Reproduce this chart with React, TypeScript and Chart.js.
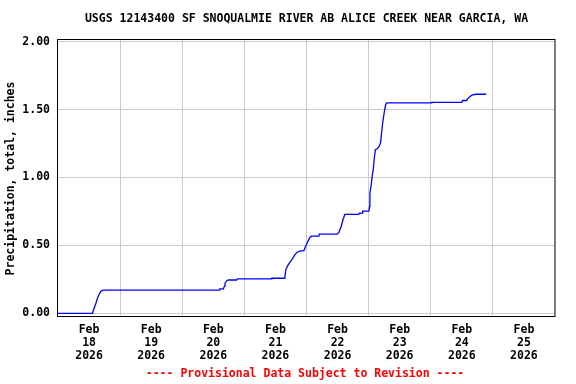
import React, { useEffect, useRef } from "react";
import { Chart, registerables } from "chart.js";

Chart.register(...registerables);

// Hours since Feb 18 2026 00:00
const hours = [
  0, 13.3, 13.8, 14.6, 15.2, 15.9, 16.5, 17.4, 62.3, 62.5, 63.9, 64.3, 64.5, 65.2, 65.8,
  69.0, 69.3, 82.5, 82.6, 87.6, 88.0, 88.9, 89.8, 90.7, 91.5, 92.4, 93.4, 95.0, 95.6,
  96.5, 97.3, 97.9, 100.8, 100.9, 107.9, 108.5, 109.4, 110.1, 110.8, 116.2, 116.4, 117.6,
  117.7, 120.1, 120.4, 120.5, 121.0, 121.4, 121.8, 122.2, 122.6, 123.4, 124.1, 124.6,
  125.0, 125.5, 126.1, 126.6, 127.0, 144.3, 144.4, 156.0, 156.3, 157.9, 158.2, 159.1,
  159.9, 161.4, 165.4,
];
const precipInches = [
  0, 0, 0.03, 0.07, 0.11, 0.14, 0.16, 0.17, 0.17, 0.18, 0.18, 0.2, 0.22, 0.24, 0.245,
  0.245, 0.253, 0.253, 0.258, 0.258, 0.32, 0.356, 0.381, 0.406, 0.43, 0.45, 0.457, 0.462,
  0.49, 0.528, 0.558, 0.568, 0.568, 0.583, 0.583, 0.595, 0.639, 0.689, 0.728, 0.728, 0.738,
  0.738, 0.753, 0.753, 0.787, 0.886, 0.947, 1.013, 1.058, 1.144, 1.205, 1.213, 1.23, 1.255,
  1.328, 1.414, 1.488, 1.537, 1.55, 1.55, 1.554, 1.554, 1.567, 1.567, 1.579, 1.594, 1.606,
  1.613, 1.613,
];
const dayLabels = ["18", "19", "20", "21", "22", "23", "24", "25"];
const monthLabel = "Feb";
const yearLabel = "2026";
const yTicks = [0, 0.5, 1.0, 1.5, 2.0];
const titleText = "USGS 12143400 SF SNOQUALMIE RIVER AB ALICE CREEK NEAR GARCIA, WA";
const yAxisTitle = "Precipitation, total, inches";
const footerText = "---- Provisional Data Subject to Revision ----";

const FONT_FAMILY = "'DejaVu Sans Mono', 'Liberation Mono', monospace";
const FONT_SIZE = 11.5;

export default function App() {
  const canvasRef = useRef<HTMLCanvasElement | null>(null);

  useEffect(() => {
    document.body.style.margin = "0";
    const canvas = canvasRef.current;
    if (!canvas) return;

    const textPlugin = {
      id: "usgsText",
      afterDraw(chart: any) {
        const { ctx, chartArea } = chart;
        ctx.save();
        // frame
        ctx.strokeStyle = "#000000";
        ctx.lineWidth = 1;
        ctx.strokeRect(
          Math.round(chartArea.left) - 0.5,
          Math.round(chartArea.top) + 0.5,
          Math.round(chartArea.right - chartArea.left) + 0.5,
          Math.round(chartArea.bottom - chartArea.top)
        );
        ctx.font = `bold ${FONT_SIZE}px ${FONT_FAMILY}`;
        ctx.textAlign = "center";
        ctx.textBaseline = "middle";
        ctx.fillStyle = "#000000";
        ctx.fillText(titleText, (chartArea.left + chartArea.right) / 2, 19);
        ctx.save();
        ctx.translate(11, (chartArea.top + chartArea.bottom) / 2 + 1);
        ctx.rotate(-Math.PI / 2);
        ctx.fillText(yAxisTitle, 0, 0);
        ctx.restore();
        ctx.fillStyle = "#ff0000";
        ctx.fillText(footerText, 305, 374);
        ctx.restore();
      },
    };

    const chart = new Chart(canvas, {
      type: "line",
      data: {
        datasets: [
          {
            data: hours.map((h, i) => ({ x: h, y: precipInches[i] })),
            borderColor: "#0000ff",
            borderWidth: 1.3,
            pointRadius: 0,
            fill: false,
            tension: 0,
          },
        ],
      },
      options: {
        animation: false,
        responsive: false,
        events: [],
        layout: { padding: { top: 39, right: 21, left: 0, bottom: 0 } },
        plugins: {
          legend: { display: false },
          title: { display: false },
          tooltip: { enabled: false },
        },
        scales: {
          x: {
            type: "linear",
            min: 0,
            max: 192,
            border: { display: false },
            grid: {
              drawTicks: false,
              color: (ctx: any) =>
                ctx.tick && ctx.tick.value % 24 === 0 && ctx.tick.value > 0 && ctx.tick.value < 192
                  ? "#cccccc"
                  : "rgba(0,0,0,0)",
              lineWidth: 1,
            },
            afterBuildTicks: (scale: any) => {
              const t = [];
              for (let i = 0; i <= 16; i++) t.push({ value: i * 12 });
              scale.ticks = t;
            },
            afterFit: (scale: any) => {
              scale.height = 68;
            },
            ticks: {
              autoSkip: false,
              maxRotation: 0,
              minRotation: 0,
              padding: 8,
              color: "#000000",
              font: { family: FONT_FAMILY, size: FONT_SIZE, weight: "bold", lineHeight: 13 / FONT_SIZE },
              callback: (value: any) => {
                const v = Number(value);
                if (v % 24 === 12) {
                  const d = Math.floor(v / 24);
                  return [monthLabel, dayLabels[d], yearLabel];
                }
                return "";
              },
            },
          },
          y: {
            type: "linear",
            min: -0.02,
            max: 2.02,
            border: { display: false },
            grid: { drawTicks: false, color: "#cccccc", lineWidth: 1 },
            afterBuildTicks: (scale: any) => {
              scale.ticks = yTicks.map((v) => ({ value: v }));
            },
            afterFit: (scale: any) => {
              scale.width = 58;
            },
            ticks: {
              padding: 8,
              color: "#000000",
              font: { family: FONT_FAMILY, size: FONT_SIZE, weight: "bold" },
              callback: (value: any) => Number(value).toFixed(2),
            },
          },
        },
      },
      plugins: [textPlugin],
    } as any);

    return () => {
      chart.destroy();
    };
  }, []);

  return (
    <div style={{ position: "absolute", left: 0, top: 0, width: 576, height: 384, background: "#ffffff" }}>
      <canvas ref={canvasRef} width={576} height={384} style={{ width: 576, height: 384 }} />
    </div>
  );
}
